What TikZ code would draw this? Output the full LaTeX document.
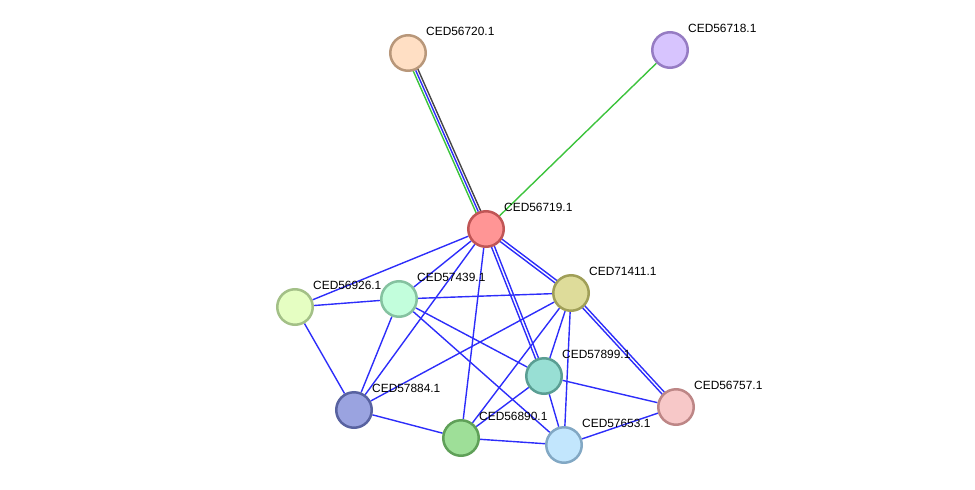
\documentclass[tikz,border=0pt]{standalone}
\usepackage{fontspec}
\setmainfont{Liberation Sans}
\usetikzlibrary{calc, backgrounds}
\definecolor{linkblue}{RGB}{45,45,250}
\definecolor{linkgreen}{RGB}{60,195,60}
\definecolor{linkgray}{RGB}{70,70,70}
\definecolor{f56720}{RGB}{255,223,196}\definecolor{d56720}{RGB}{184,151,122}
\definecolor{f56718}{RGB}{215,196,254}\definecolor{d56718}{RGB}{150,124,195}
\definecolor{f56719}{RGB}{255,149,149}\definecolor{d56719}{RGB}{192,85,85}
\definecolor{f71411}{RGB}{222,220,154}\definecolor{d71411}{RGB}{160,159,88}
\definecolor{f56926}{RGB}{229,254,194}\definecolor{d56926}{RGB}{163,192,135}
\definecolor{f57439}{RGB}{194,254,220}\definecolor{d57439}{RGB}{133,194,160}
\definecolor{f57899}{RGB}{152,223,212}\definecolor{d57899}{RGB}{90,158,147}
\definecolor{f56757}{RGB}{247,200,200}\definecolor{d56757}{RGB}{189,134,134}
\definecolor{f57884}{RGB}{154,163,224}\definecolor{d57884}{RGB}{88,98,160}
\definecolor{f56890}{RGB}{158,223,152}\definecolor{d56890}{RGB}{95,160,88}
\definecolor{f57653}{RGB}{194,230,253}\definecolor{d57653}{RGB}{130,168,196}
\tikzset{
  prot/.style={circle, fill=f#1, draw=d#1, line width=2.5pt, minimum size=35.5pt, inner sep=0pt},
  lbl/.style={anchor=west, inner sep=0pt, font=\fontsize{11.9}{13}\selectfont, xshift=4.6pt, yshift=8.6pt},
  ln/.style={line width=1.4pt, draw=linkblue},
}

\begin{document}
\begin{tikzpicture}[x=1pt, y=-1pt]
    \useasboundingbox (0,0) rectangle (975,490);
    \node[prot=56720, label={[lbl]45:CED56720.1}] (p56720) at (408,53) {};
    \node[prot=56718, label={[lbl]45:CED56718.1}] (p56718) at (670,50) {};
    \node[prot=56719, label={[lbl]45:CED56719.1}] (p56719) at (486,229) {};
    \node[prot=71411, label={[lbl]45:CED71411.1}] (p71411) at (571,293) {};
    \node[prot=56926, label={[lbl]45:CED56926.1}] (p56926) at (295,307) {};
    \node[prot=57439, label={[lbl]45:CED57439.1}] (p57439) at (399,299) {};
    \node[prot=57899, label={[lbl]45:CED57899.1}] (p57899) at (544,376) {};
    \node[prot=56757, label={[lbl]45:CED56757.1}] (p56757) at (676,407) {};
    \node[prot=57884, label={[lbl]45:CED57884.1}] (p57884) at (354,410) {};
    \node[prot=56890, label={[lbl]45:CED56890.1}] (p56890) at (461,438) {};
    \node[prot=57653, label={[lbl]45:CED57653.1}] (p57653) at (564,445) {};

    \begin{scope}[on background layer]
      % evidence lines between the two top proteins
      \draw[line width=1.4pt, linkgreen] ($(p56720)!2.5pt!-90:(p56719)$) -- ($(p56719)!2.5pt!90:(p56720)$);
      \draw[ln] (p56720) -- (p56719);
      \draw[line width=1.4pt, linkgray] ($(p56720)!2.5pt!90:(p56719)$) -- ($(p56719)!2.5pt!-90:(p56720)$);
      \draw[line width=1.4pt, linkgreen] (p56718) -- (p56719);
      % single links
      \foreach \a/\b in {p56719/p56926, p56719/p57439, p56719/p57884, p56719/p56890,
          p57439/p56926, p57439/p71411, p57439/p57884, p57439/p57899, p57439/p57653,
          p56926/p57884, p57884/p71411, p57884/p56890,
          p56890/p57653, p56890/p71411, p56890/p57899,
          p71411/p57899, p71411/p57653,
          p57899/p56757, p57899/p57653, p57653/p56757}
        \draw[ln] (\a) -- (\b);
      % double links
      \foreach \a/\b in {p56719/p71411, p56719/p57899, p71411/p56757} {
        \draw[ln] ($(\a)!1.5pt!90:(\b)$) -- ($(\b)!1.5pt!-90:(\a)$);
        \draw[ln] ($(\a)!1.5pt!-90:(\b)$) -- ($(\b)!1.5pt!90:(\a)$);
      }
    \end{scope}
\end{tikzpicture}
\end{document}
